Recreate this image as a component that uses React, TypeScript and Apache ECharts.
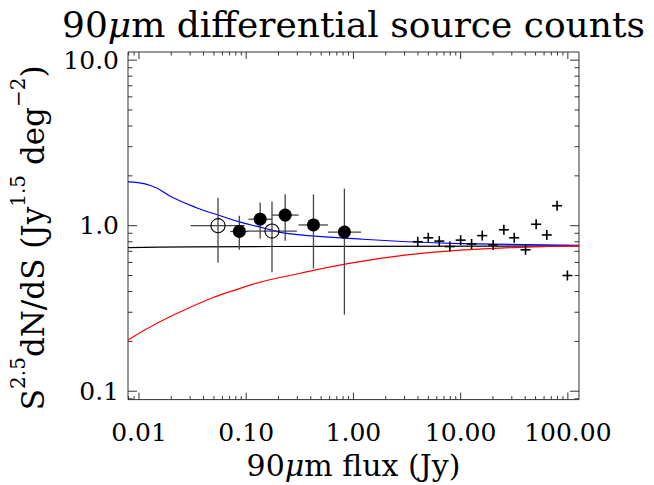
import React, { useEffect, useRef } from 'react';
import * as echarts from 'echarts';

const FONT = "'DejaVu Serif', 'Liberation Serif', serif";

const X_RANGE = [0.0079, 127];
const Y_RANGE = [0.089, 11.2];
const X_MAJOR_TICKS = [0.01, 0.1, 1, 10, 100];
const X_TICK_LABELS = ['0.01', '0.10', '1.00', '10.00', '100.00'];
const Y_MAJOR_TICKS = [0.1, 1, 10];
const Y_TICK_LABELS = ['0.1', '1.0', '10.0'];

// filled circles with error bars
const FILLED_X = [0.0863, 0.135, 0.231, 0.424, 0.824];
const FILLED_Y = [0.923, 1.094, 1.159, 1.01, 0.915];
const FILLED_XLO = [0.071, 0.105, 0.174, 0.308, 0.578];
const FILLED_XHI = [0.105, 0.174, 0.308, 0.578, 1.18];
const FILLED_YLO = [0.715, 0.837, 0.811, 0.552, 0.29];
const FILLED_YHI = [1.15, 1.38, 1.55, 1.545, 1.674];

// open circles with error bars
const OPEN_X = [0.0546, 0.174];
const OPEN_Y = [1.0, 0.928];
const OPEN_XLO = [0.0303, 0.102];
const OPEN_XHI = [0.097, 0.297];
const OPEN_YLO = [0.598, 0.523];
const OPEN_YHI = [1.475, 1.4];

// plus signs
const PLUS_X = [3.98, 4.99, 6.32, 7.94, 10.0, 12.65, 15.9, 20.1, 25.3, 31.6, 40.3, 50.6, 63.6, 79.3, 99];
const PLUS_Y = [0.8, 0.845, 0.807, 0.748, 0.818, 0.775, 0.871, 0.765, 0.944, 0.845, 0.715, 1.02, 0.879, 1.32, 0.5];

// model curves
const BLUE_X = [0.0079, 0.0128, 0.0211, 0.0348, 0.0546, 0.088, 0.135, 0.248, 1.0, 3.16, 10, 127];
const BLUE_Y = [1.84, 1.75, 1.47, 1.28, 1.16, 1.05, 0.98, 0.895, 0.836, 0.8, 0.78, 0.76];
const RED_X = [0.0079, 0.0244, 0.098, 0.319, 1.0, 3.16, 10, 35.6, 127];
const RED_Y = [0.204, 0.302, 0.428, 0.516, 0.598, 0.666, 0.712, 0.74, 0.755];
const BLACK_X = [0.0079, 0.03, 1, 127];
const BLACK_Y = [0.737, 0.745, 0.75, 0.755];

function logTicks(lo: number, hi: number) {
  const out: number[][] = [];
  for (let e = -3; e <= 3; e++) {
    for (let m = 1; m <= 9; m++) {
      const v = m * Math.pow(10, e);
      if (v >= lo && v <= hi) out.push([v, m === 1 ? 1 : 0]);
    }
  }
  return out;
}

function labelFor(v: number, ticks: number[], labels: string[]) {
  for (let i = 0; i < ticks.length; i++) {
    if (Math.abs(Math.log10(v) - Math.log10(ticks[i])) < 0.01) return labels[i];
  }
  return '';
}

export default function App() {
  const ref = useRef<HTMLDivElement>(null);
  useEffect(() => {
    if (!ref.current) return;
    const chart = echarts.init(ref.current, null, { renderer: 'svg' });

    const tickData: number[][] = [];
    logTicks(X_RANGE[0], X_RANGE[1]).forEach(([v, maj]) => tickData.push([v, 1, 0, maj]));
    logTicks(Y_RANGE[0], Y_RANGE[1]).forEach(([v, maj]) => tickData.push([1, v, 1, maj]));

    const errData = [
      ...FILLED_X.map((x, i) => [x, FILLED_Y[i], FILLED_XLO[i], FILLED_XHI[i], FILLED_YLO[i], FILLED_YHI[i]]),
      ...OPEN_X.map((x, i) => [x, OPEN_Y[i], OPEN_XLO[i], OPEN_XHI[i], OPEN_YLO[i], OPEN_YHI[i]]),
    ];

    const axisColor = '#333';
    const errColor = '#444';

    const option: any = {
      animation: false,
      backgroundColor: '#fff',
      title: {
        text: '90{mu|μ}m differential source counts',
        left: 62,
        top: 8,
        padding: 0,
        textStyle: {
          fontFamily: FONT,
          fontSize: 36,
          lineHeight: 32,
          fontWeight: 'normal',
          color: '#000',
          rich: {
            mu: { fontFamily: FONT, fontSize: 36, lineHeight: 32, fontStyle: 'italic', color: '#000' },
          },
        },
      },
      grid: {
        left: 127,
        top: 52,
        width: 452,
        height: 360,
        show: true,
        borderColor: axisColor,
        borderWidth: 1,
        backgroundColor: 'transparent',
      },
      xAxis: {
        type: 'log',
        logBase: 10,
        min: X_RANGE[0],
        max: X_RANGE[1],
        axisLine: { show: false },
        axisTick: { show: false },
        splitLine: { show: false },
        axisLabel: {
          margin: 21,
          fontFamily: FONT,
          fontSize: 25,
          lineHeight: 24,
          color: '#000',
          formatter: (v: number) => labelFor(v, X_MAJOR_TICKS, X_TICK_LABELS),
        },
        name: '90{mu|μ}m flux (Jy)',
        nameLocation: 'middle',
        nameGap: 36,
        nameTextStyle: {
          fontFamily: FONT,
          fontSize: 30,
          lineHeight: 30,
          color: '#000',
          rich: {
            mu: { fontFamily: FONT, fontSize: 30, lineHeight: 30, fontStyle: 'italic', color: '#000' },
          },
        },
      },
      yAxis: {
        type: 'log',
        logBase: 10,
        min: Y_RANGE[0],
        max: Y_RANGE[1],
        axisLine: { show: false },
        axisTick: { show: false },
        splitLine: { show: false },
        axisLabel: {
          margin: 9,
          fontFamily: FONT,
          fontSize: 25,
          lineHeight: 22,
          color: '#000',
          formatter: (v: number) => labelFor(v, Y_MAJOR_TICKS, Y_TICK_LABELS),
        },
        name: '{b|S}{s|2.5}{b|dN/dS (Jy}{s|1.5}{b| deg}{s|−2}{b|)}',
        nameLocation: 'middle',
        nameRotate: 90,
        nameGap: 80,
        nameTextStyle: {
          fontFamily: FONT,
          fontSize: 31,
          color: '#000',
          padding: [0, 24, 0, 0],
          rich: {
            b: { fontFamily: FONT, fontSize: 31, lineHeight: 40, verticalAlign: 'bottom', color: '#000' },
            s: { fontFamily: FONT, fontSize: 20, lineHeight: 24, verticalAlign: 'top', color: '#000' },
          },
        },
      },
      series: [
        {
          type: 'custom',
          silent: true,
          clip: false,
          data: tickData,
          encode: { x: 0, y: 1 },
          z: 5,
          renderItem: (params: any, api: any) => {
            const cs = params.coordSys;
            const kind = api.value(2);
            const major = api.value(3);
            const style = { stroke: axisColor, lineWidth: 1 };
            if (kind === 0) {
              const px = api.coord([api.value(0), 1])[0];
              const len = major ? 7 : 3.5;
              const bot = cs.y + cs.height;
              return {
                type: 'group',
                children: [
                  { type: 'line', shape: { x1: px, y1: bot, x2: px, y2: bot - len }, style },
                  { type: 'line', shape: { x1: px, y1: cs.y, x2: px, y2: cs.y + len }, style },
                ],
              };
            }
            const py = api.coord([1, api.value(1)])[1];
            const len = major ? 9 : 4.5;
            const right = cs.x + cs.width;
            return {
              type: 'group',
              children: [
                { type: 'line', shape: { x1: cs.x, y1: py, x2: cs.x + len, y2: py }, style },
                { type: 'line', shape: { x1: right, y1: py, x2: right - len, y2: py }, style },
              ],
            };
          },
        },
        {
          type: 'line',
          data: BLACK_X.map((x, i) => [x, BLACK_Y[i]]),
          showSymbol: false,
          symbol: 'none',
          smooth: true,
          lineStyle: { color: '#000', width: 1.2 },
          z: 2,
        },
        {
          type: 'line',
          data: BLUE_X.map((x, i) => [x, BLUE_Y[i]]),
          showSymbol: false,
          symbol: 'none',
          smooth: true,
          lineStyle: { color: '#0000ff', width: 1.2 },
          z: 2,
        },
        {
          type: 'line',
          data: RED_X.map((x, i) => [x, RED_Y[i]]),
          showSymbol: false,
          symbol: 'none',
          smooth: true,
          lineStyle: { color: '#ff0000', width: 1.2 },
          z: 2,
        },
        {
          type: 'custom',
          silent: true,
          data: errData,
          encode: { x: 0, y: 1 },
          z: 3,
          renderItem: (params: any, api: any) => {
            const y = api.value(1);
            const x = api.value(0);
            const l = api.coord([api.value(2), y]);
            const r = api.coord([api.value(3), y]);
            const b = api.coord([x, api.value(4)]);
            const t = api.coord([x, api.value(5)]);
            const style = { stroke: errColor, lineWidth: 1.3 };
            return {
              type: 'group',
              children: [
                { type: 'line', shape: { x1: l[0], y1: l[1], x2: r[0], y2: r[1] }, style },
                { type: 'line', shape: { x1: b[0], y1: b[1], x2: t[0], y2: t[1] }, style },
              ],
            };
          },
        },
        {
          type: 'scatter',
          data: FILLED_X.map((x, i) => [x, FILLED_Y[i]]),
          symbol: 'circle',
          symbolSize: 13,
          itemStyle: { color: '#000', opacity: 1 },
          z: 4,
        },
        {
          type: 'scatter',
          data: OPEN_X.map((x, i) => [x, OPEN_Y[i]]),
          symbol: 'circle',
          symbolSize: 14,
          itemStyle: { color: 'rgba(0,0,0,0)', borderColor: '#000', borderWidth: 1.1, opacity: 1 },
          z: 4,
        },
        {
          type: 'custom',
          silent: true,
          data: PLUS_X.map((x, i) => [x, PLUS_Y[i]]),
          encode: { x: 0, y: 1 },
          z: 4,
          renderItem: (params: any, api: any) => {
            const p = api.coord([api.value(0), api.value(1)]);
            const s = 5;
            const style = { stroke: '#000', lineWidth: 1.6 };
            return {
              type: 'group',
              children: [
                { type: 'line', shape: { x1: p[0] - s, y1: p[1], x2: p[0] + s, y2: p[1] }, style },
                { type: 'line', shape: { x1: p[0], y1: p[1] - s, x2: p[0], y2: p[1] + s }, style },
              ],
            };
          },
        },
      ],
    };

    chart.setOption(option);
    return () => chart.dispose();
  }, []);

  return (
    <div
      ref={ref}
      style={{ position: 'fixed', left: 0, top: 0, width: 654, height: 485, background: '#fff' }}
    />
  );
}
